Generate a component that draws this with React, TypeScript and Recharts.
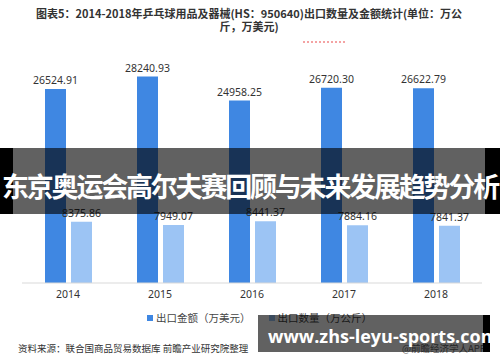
import { BarChart, Bar, XAxis, YAxis, LabelList } from 'recharts';

// 年份
const years = ['2014', '2015', '2016', '2017', '2018'];
// 出口金额（万美元）
const exportValue = [26524.91, 28240.93, 24958.25, 26720.3, 26622.79];
// 出口数量（万公斤）
const exportVolume = [8375.86, 7949.07, 8441.37, 7884.16, 7841.37];

const data = years.map((year, i) => ({
  year,
  value: exportValue[i],
  volume: exportVolume[i],
}));

const DARK = '#3f87e2';
const LIGHT = '#9cc4f4';
const CJK = '"Noto Sans CJK SC", "Noto Sans", sans-serif';
const SHADE = 'rgba(0,0,0,0.62)';

const fmt = (v: number) => v.toFixed(2);

export default function App() {
  return (
    <div
      style={{
        position: 'absolute',
        left: 0,
        top: 0,
        width: 500,
        height: 362,
        background: '#fff',
        overflow: 'hidden',
        fontFamily: CJK,
      }}
    >
      {/* 标题 */}
      <div
        style={{
          position: 'absolute',
          left: 0,
          top: 7,
          width: 498,
          textAlign: 'center',
          fontSize: 11,
          fontWeight: 700,
          color: '#333',
          lineHeight: '13px',
        }}
      >
        <div>图表5：2014-2018年乒乓球用品及器械(HS：950640)出口数量及金额统计(单位：万公</div>
        <div>斤，万美元)</div>
      </div>
      <div
        style={{
          position: 'absolute',
          left: 303,
          top: 41,
          width: 42,
          borderTop: '2px dotted #f4a3a3',
        }}
      />

      <BarChart
        width={500}
        height={362}
        data={data}
        margin={{ top: 60, right: 18, left: 22, bottom: 49 }}
        barSize={21}
        barGap={5}
      >
        <XAxis
          dataKey="year"
          axisLine={{ stroke: '#d9d9d9' }}
          tickLine={false}
          tick={{ fontSize: 10.5, fill: '#333', fontFamily: '"Noto Sans", sans-serif' }}
        />
        <YAxis hide domain={[0, 30500]} />
        <Bar dataKey="value" fill={DARK} isAnimationActive={false}>
          <LabelList
            dataKey="value"
            position="top"
            formatter={fmt}
            style={{ fontSize: 10.5, fill: '#333', fontFamily: '"Noto Sans", sans-serif' }}
          />
        </Bar>
        <Bar dataKey="volume" fill={LIGHT} isAnimationActive={false}>
          <LabelList
            dataKey="volume"
            position="top"
            formatter={fmt}
            style={{ fontSize: 10.5, fill: '#333', fontFamily: '"Noto Sans", sans-serif' }}
          />
        </Bar>
      </BarChart>

      {/* 图例 */}
      <div
        style={{
          position: 'absolute',
          left: 147,
          top: 311,
          display: 'flex',
          alignItems: 'center',
          fontSize: 10.5,
          color: '#444',
          lineHeight: '14px',
          whiteSpace: 'nowrap',
        }}
      >
        <span style={{ width: 6, height: 6, background: DARK, marginRight: 3 }} />
        <span>出口金额（万美元）</span>
        <span style={{ width: 6, height: 6, background: LIGHT, marginLeft: 18, marginRight: 3 }} />
        <span>出口数量（万公斤）</span>
      </div>

      {/* 资料来源 */}
      <div
        style={{
          position: 'absolute',
          left: 18,
          top: 341,
          fontSize: 9.5,
          color: '#333',
          lineHeight: '14px',
          whiteSpace: 'nowrap',
        }}
      >
        资料来源：联合国商品贸易数据库 前瞻产业研究院整理
      </div>
      <div
        style={{
          position: 'absolute',
          left: 402,
          top: 341,
          fontSize: 9.5,
          color: '#666',
          lineHeight: '14px',
          whiteSpace: 'nowrap',
        }}
      >
        @前瞻经济学人APP
      </div>

      {/* 横幅 */}
      <div style={{ position: 'absolute', left: 0, top: 148, width: 13, height: 66, background: '#000' }} />
      <div style={{ position: 'absolute', left: 13, top: 148, width: 472, height: 66, background: SHADE }} />
      <div style={{ position: 'absolute', left: 485, top: 148, width: 15, height: 66, background: '#000' }} />
      <div
        style={{
          position: 'absolute',
          left: 0,
          top: 170,
          width: 500,
          textAlign: 'center',
          fontSize: 27,
          letterSpacing: -2.2,
          fontWeight: 700,
          color: '#fff',
          lineHeight: '32px',
          whiteSpace: 'nowrap',
        }}
      >
        东京奥运会高尔夫赛回顾与未来发展趋势分析
      </div>

      {/* 网址 */}
      <div style={{ position: 'absolute', left: 258, top: 315, width: 225, height: 37, background: SHADE }} />
      <div style={{ position: 'absolute', left: 483, top: 315, width: 7, height: 37, background: '#000' }} />
      <div
        style={{
          position: 'absolute',
          left: 268,
          top: 324,
          fontSize: 18,
          fontWeight: 700,
          color: '#fff',
          fontFamily: '"Open Sans", sans-serif',
          lineHeight: '24px',
          whiteSpace: 'nowrap',
        }}
      >
        www.zhs-leyu-sports.com
      </div>
    </div>
  );
}
